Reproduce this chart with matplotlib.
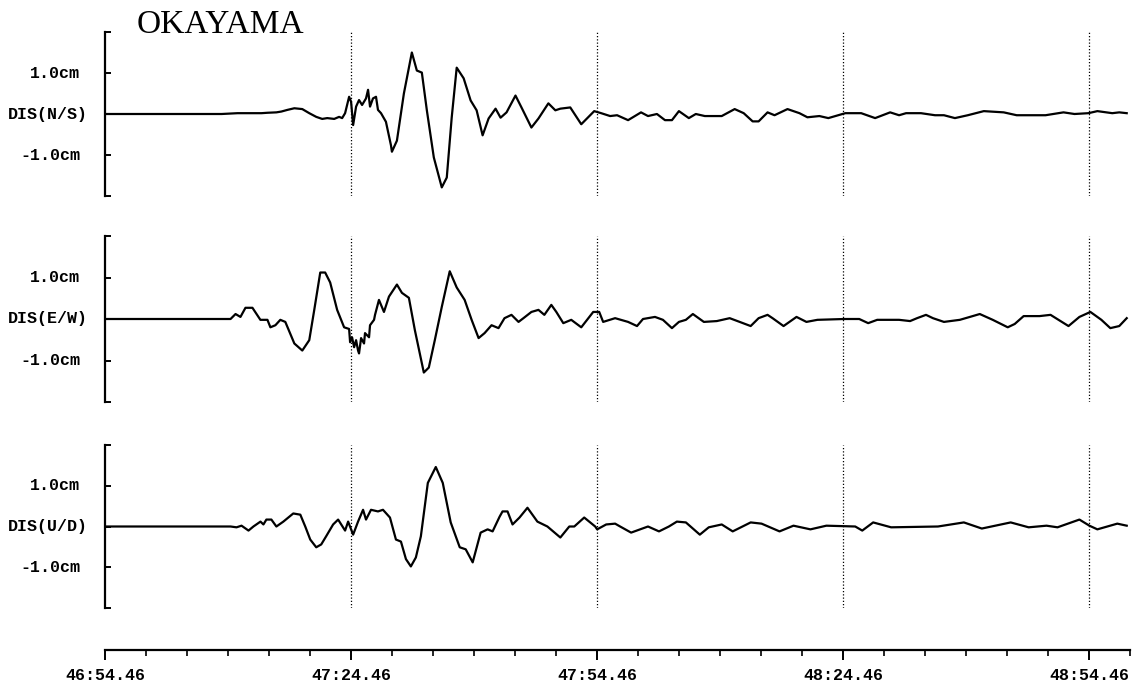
import numpy as np
import matplotlib
matplotlib.use("Agg")
from matplotlib import pyplot as plt

# time in seconds after 46:54.46, displacement in cm
ns_t = np.array([0, 14.22, 16.16, 17.86, 19.08, 19.81, 20.90, 21.51, 22.24, 23.09,
                 24.06, 24.91, 25.76, 26.49, 27.10, 27.95, 28.55, 28.92, 29.28, 29.77,
                 30.01, 30.26, 30.62, 30.98, 31.35, 31.83, 32.08, 32.32, 32.68, 33.05,
                 33.29, 33.66, 34.26, 34.87, 34.99, 35.60, 36.45, 37.42, 38.03, 38.64,
                 39.25, 40.10, 41.07, 41.68, 42.28, 42.89, 43.74, 44.59, 45.32, 46.05,
                 46.78, 47.63, 48.24, 48.97, 50.06, 50.79, 52.00, 52.86, 54.07, 54.92,
                 55.53, 56.74, 58.08, 59.66, 60.51, 61.60, 62.45, 63.79, 65.37, 66.22,
                 67.31, 68.29, 69.14, 69.99, 71.20, 72.05, 73.15, 75.21, 76.79, 77.89,
                 78.98, 79.71, 80.80, 81.65, 83.23, 84.69, 85.66, 87.12, 88.21, 90.28,
                 92.22, 93.92, 95.75, 96.84, 97.69, 99.51, 101.22, 102.31, 103.65, 105.22,
                 107.17, 109.60, 111.18, 114.70, 116.89, 118.23, 119.93, 121.02, 122.84, 123.69,
                 124.6])
ns_cm = np.array([0, 0, 0.02, 0.02, 0.02, 0.03, 0.04, 0.06, 0.10, 0.14,
                  0.12, 0.02, -0.07, -0.12, -0.10, -0.12, -0.07, -0.10, 0.02, 0.42,
                  0.30, -0.27, 0.18, 0.34, 0.22, 0.38, 0.59, 0.18, 0.38, 0.42,
                  0.10, 0.02, -0.19, -0.76, -0.92, -0.65, 0.50, 1.50, 1.06, 1.01,
                  0.09, -1.06, -1.79, -1.55, -0.09, 1.13, 0.87, 0.33, 0.09, -0.52,
                  -0.11, 0.13, -0.09, 0.04, 0.45, 0.16, -0.33, -0.11, 0.26, 0.09,
                  0.13, 0.16, -0.25, 0.07, 0.02, -0.05, -0.03, -0.15, 0.04, -0.05,
                  0.0, -0.15, -0.15, 0.07, -0.10, 0.0, -0.05, -0.05, 0.12, 0.02,
                  -0.18, -0.18, 0.04, -0.03, 0.12, 0.02, -0.08, -0.05, -0.10, 0.02,
                  0.02, -0.10, 0.04, -0.03, 0.02, 0.02, -0.03, -0.03, -0.10, -0.03,
                  0.07, 0.04, -0.03, -0.03, 0.04, 0.0, 0.02, 0.07, 0.02, 0.04,
                  0.02])

ew_t = np.array([0, 15.31, 15.92, 16.52, 17.13, 17.98, 18.95, 19.81, 20.17, 20.78,
                 21.38, 21.99, 23.09, 24.06, 24.91, 25.52, 26.25, 26.85, 27.46, 28.31,
                 29.16, 29.77, 29.89, 30.13, 30.38, 30.62, 30.86, 30.98, 31.23, 31.59,
                 31.71, 32.20, 32.32, 32.81, 32.93, 33.41, 34.02, 34.63, 35.60, 36.21,
                 37.06, 37.79, 38.88, 39.49, 40.22, 41.07, 42.04, 42.89, 43.86, 44.71,
                 45.56, 46.29, 47.14, 47.99, 48.72, 49.57, 50.43, 51.03, 52.00, 52.86,
                 53.58, 54.43, 55.04, 55.89, 56.86, 58.08, 59.54, 60.27,
                 60.75, 62.21, 63.79, 64.88, 65.61, 67.07, 68.04, 69.14, 69.99, 70.84,
                 71.69, 73.03, 74.61, 76.18, 77.40, 78.74, 79.71, 80.80, 81.41, 82.75,
                 84.33, 85.54, 86.88, 90.16, 91.98, 93.07, 94.17, 96.84, 98.18, 99.03,
                 100.12, 100.97, 102.31, 104.25, 105.47, 106.68, 108.26, 110.09, 110.94, 112.03,
                 113.97, 115.31, 117.50, 118.83, 120.17, 121.51, 122.60, 123.69, 124.6])
ew_cm = np.array([0, 0, 0.12, 0.05, 0.27, 0.27, -0.02, -0.02, -0.20, -0.15,
                  -0.02, -0.07, -0.59, -0.76, -0.51, 0.22, 1.12, 1.12, 0.88, 0.22,
                  -0.20, -0.24, -0.56, -0.44, -0.68, -0.51, -0.76, -0.83, -0.46, -0.59,
                  -0.34, -0.44, -0.15, -0.02, 0.10, 0.46, 0.17, 0.54, 0.83, 0.63,
                  0.51, -0.27, -1.29, -1.17, -0.51, 0.29, 1.15, 0.76, 0.46, -0.02,
                  -0.46, -0.34, -0.15, -0.22, 0.02, 0.10, -0.07, 0.02, 0.17, 0.22,
                  0.10, 0.34, 0.17, -0.10, -0.02, -0.20, 0.17, 0.17,
                  -0.07, 0.02, -0.07, -0.17, 0, 0.05, -0.02, -0.22, -0.07, -0.02,
                  0.12, -0.07, -0.05, 0.02, -0.07, -0.17, 0.02, 0.10, 0.02, -0.17,
                  0.05, -0.07, -0.02, 0, 0, -0.10, -0.02, -0.02, -0.05, 0.02,
                  0.10, 0.02, -0.07, -0.02, 0.05, 0.12, -0.02, -0.20, -0.12, 0.07,
                  0.07, 0.10, -0.17, 0.05, 0.17, -0.02, -0.22, -0.17, 0.02])

ud_t = np.array([0, 15.31, 16.04, 16.65, 17.50, 18.10, 18.96, 19.32, 19.68, 20.29,
                 20.90, 21.75, 22.96, 23.82, 24.42, 25.03, 25.76, 26.37, 26.97, 27.82,
                 28.43, 29.28, 29.65, 30.26, 30.86, 31.47, 31.83, 32.44, 33.29, 33.90,
                 34.75, 35.48, 36.09, 36.70, 37.30, 37.91, 38.52, 39.37, 40.34, 41.19,
                 42.16, 43.26, 43.99, 44.84, 45.81, 46.66, 47.27, 48.12, 48.48, 49.09,
                 49.70, 50.55, 51.52, 52.73, 53.95, 55.53, 56.62, 57.23, 58.44, 59.78,
                 60.02, 61.12, 62.21, 62.82, 64.16, 66.22, 67.56, 68.77, 69.74, 70.84,
                 72.54, 73.63, 75.21, 76.55, 78.74, 80.07, 82.26, 83.96, 86.03, 87.97,
                 91.49, 92.35, 93.68, 95.87, 101.58, 104.74, 106.93, 110.45, 112.64, 114.82,
                 116.16, 118.83, 120.05, 121.02, 123.45, 124.6])
ud_cm = np.array([0, 0, -0.02, 0.02, -0.10, 0, 0.12, 0.05, 0.17, 0.17,
                  0, 0.12, 0.32, 0.29, 0, -0.32, -0.51, -0.44, -0.24, 0.05,
                  0.17, -0.10, 0.12, -0.20, 0.12, 0.41, 0.17, 0.41, 0.37, 0.41,
                  0.22, -0.32, -0.37, -0.80, -0.98, -0.76, -0.24, 1.07, 1.46, 1.07,
                  0.10, -0.51, -0.56, -0.88, -0.15, -0.07, -0.12, 0.24, 0.37, 0.37,
                  0.05, 0.22, 0.46, 0.12, 0, -0.27, 0, 0, 0.22, 0,
                  -0.07, 0.05, 0.07, 0, -0.15, 0, -0.12, 0, 0.12, 0.10,
                  -0.20, -0.02, 0.05, -0.12, 0.10, 0.07, -0.12, 0.02, -0.07, 0.02,
                  0, -0.10, 0.10, -0.02, 0, 0.10, -0.05, 0.10, -0.02, 0.02,
                  -0.02, 0.17, 0.02, -0.07, 0.07, 0.02])

channels = ['DIS(N/S)', 'DIS(E/W)', 'DIS(U/D)']
time_ticks = [0, 30, 60, 90, 120]
time_labels = ['46:54.46', '47:24.46', '47:54.46', '48:24.46', '48:54.46']

mono = 'Liberation Mono'
fig = plt.figure(figsize=(11.42, 6.85), dpi=100)

left, width = 105 / 1142, 1025 / 1142
boxes = [(32, 196), (236, 402), (445, 608)]   # panel top/bottom in pixels
traces = [(ns_t, ns_cm), (ew_t, ew_cm), (ud_t, ud_cm)]

for (top, bot), (t, v), name in zip(boxes, traces, channels):
    ax = fig.add_axes([left, 1 - bot / 685, width, (bot - top) / 685])
    ax.plot(t, v, color='black', lw=1.6)
    for x in time_ticks[1:]:
        ax.axvline(x, color='black', ls=(0, (1, 1.6)), lw=0.9)
    ax.set_xlim(0, 125)
    ax.set_ylim(-2, 2)
    for s in ['top', 'right', 'bottom']:
        ax.spines[s].set_visible(False)
    ax.spines['left'].set_linewidth(1.6)
    ax.set_xticks([])
    ax.set_yticks([-2, -1, 0, 1, 2])
    ax.set_yticklabels([])
    ax.tick_params(axis='y', direction='in', length=4, width=1.4)
    tr = ax.get_yaxis_transform()
    ax.text(-0.0244, 1, '1.0cm', transform=tr, ha='right', va='center',
            family=mono, weight='bold', fontsize=12)
    ax.text(-0.0166, 0, name, transform=tr, ha='right', va='center',
            family=mono, weight='bold', fontsize=12)
    ax.text(-0.0244, -1, '-1.0cm', transform=tr, ha='right', va='center',
            family=mono, weight='bold', fontsize=12)

# time axis at the bottom
tax = fig.add_axes([left, 1 - 650 / 685, width, 0.001])
tax.set_xlim(0, 125)
tax.set_ylim(0, 1)
for s in ['top', 'right', 'left']:
    tax.spines[s].set_visible(False)
tax.spines['bottom'].set_linewidth(1.6)
tax.set_yticks([])
tax.set_xticks(time_ticks)
tax.set_xticklabels(time_labels, family=mono, weight='bold', fontsize=12)
tax.set_xticks(np.arange(0, 126, 5), minor=True)
tax.tick_params(axis='x', which='major', direction='out', length=7, width=1.4, pad=6)
tax.tick_params(axis='x', which='minor', direction='out', length=4, width=1.2)

fig.text(137 / 1142, 1 - 33 / 685, 'OKAYAMA', family='Liberation Serif',
         fontsize=24, va='baseline', ha='left')

fig.savefig('out.png', dpi=100)
